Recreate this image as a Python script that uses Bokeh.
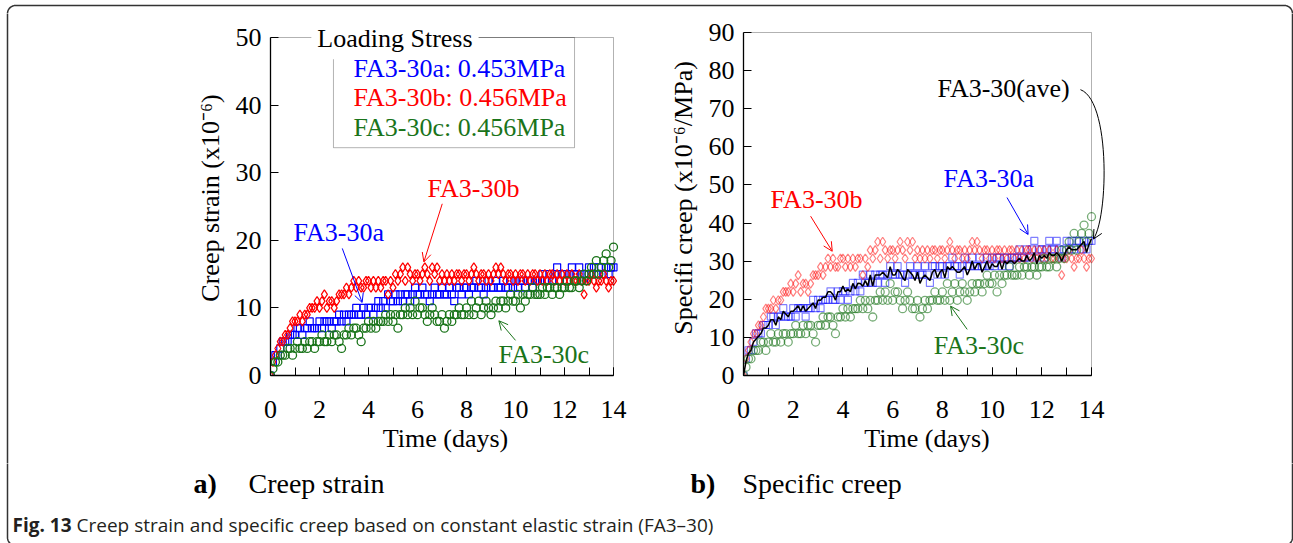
import numpy as np
from bokeh.plotting import figure
from bokeh.models import (Range1d, SingleIntervalTicker, Label, Arrow, OpenHead,
                          BoxAnnotation, ColumnDataSource)
from bokeh.layouts import column, row
from bokeh.embed import file_html
from bokeh.resources import INLINE

# ---------------- data ----------------
time_days = [round(0.1 * i, 1) for i in range(141)]

strain_a = [0, 2, 3, 3, 4, 5, 5, 5, 6, 6,
            6, 7, 7, 6, 7, 7, 8, 7, 7, 7,
            8, 7, 8, 8, 8, 7, 8, 8, 9, 8,
            9, 8, 9, 9, 9, 10, 9, 9, 10, 9,
            10, 10, 9, 10, 11, 10, 11, 10, 12, 11,
            11, 12, 11, 12, 11, 12, 12, 11, 12, 13,
            12, 12, 13, 12, 12, 11, 12, 13, 12, 12,
            13, 12, 12, 13, 12, 11, 13, 13, 12, 13,
            13, 12, 13, 13, 14, 13, 13, 12, 13, 14,
            13, 13, 14, 13, 13, 14, 13, 13, 14, 13,
            14, 13, 14, 14, 13, 14, 14, 13, 14, 14,
            14, 15, 14, 14, 15, 14, 15, 16, 14, 15,
            15, 14, 15, 16, 15, 15, 16, 15, 14, 15,
            16, 15, 16, 15, 16, 16, 15, 16, 15, 16, 16]

strain_b = [0, 2, 3, 4, 5, 5, 6, 6, 7, 8,
            8, 8, 9, 8, 9, 9, 10, 10, 10, 11,
            10, 11, 12, 10, 11, 11, 10, 11, 12, 12,
            12, 13, 12, 13, 14, 13, 14, 13, 13, 14,
            14, 13, 14, 13, 14, 13, 14, 14, 12, 14,
            13, 15, 14, 15, 16, 14, 16, 15, 14, 15,
            15, 14, 15, 16, 15, 14, 16, 15, 16, 14,
            15, 14, 15, 14, 15, 14, 15, 15, 14, 15,
            15, 14, 15, 16, 15, 14, 15, 15, 14, 15,
            14, 15, 16, 15, 16, 15, 14, 15, 15, 14,
            15, 14, 15, 15, 14, 15, 14, 15, 15, 14,
            15, 14, 15, 14, 15, 15, 14, 15, 14, 15,
            14, 15, 14, 15, 14, 14, 15, 14, 12, 14,
            14, 15, 14, 13, 14, 14, 15, 14, 13, 14, 14]

strain_c = [0, 1, 2, 2, 3, 3, 3, 4, 4, 3,
            4, 5, 4, 4, 5, 4, 5, 5, 4, 5,
            5, 6, 5, 5, 6, 5, 6, 6, 5, 4,
            6, 6, 7, 6, 7, 7, 6, 5, 7, 7,
            8, 7, 8, 7, 8, 8, 8, 9, 8, 9,
            8, 9, 7, 9, 9, 10, 9, 10, 9, 11,
            9, 10, 10, 9, 8, 9, 10, 9, 8, 8,
            9, 7, 8, 9, 8, 9, 9, 10, 9, 9,
            10, 9, 11, 9, 10, 11, 9, 10, 11, 10,
            9, 10, 11, 10, 11, 11, 10, 11, 12, 11,
            11, 12, 10, 12, 11, 12, 12, 13, 12, 12,
            12, 13, 12, 13, 13, 12, 13, 13, 12, 13,
            13, 14, 13, 13, 14, 14, 13, 14, 15, 14,
            15, 16, 15, 17, 15, 16, 17, 18, 16, 17, 19]

stress_a = 0.453
stress_b = 0.456
stress_c = 0.456

series_names = ["FA3-30a", "FA3-30b", "FA3-30c"]
legend_lines = ["FA3-30a: 0.453MPa", "FA3-30b: 0.456MPa", "FA3-30c: 0.456MPa"]
ave_name = "FA3-30(ave)"
x_max = 14
strain_max = 50
creep_max = 90
x_tick_step = 2
y_tick_step = 10

spec_a = np.array(strain_a) / stress_a
spec_b = np.array(strain_b) / stress_b
spec_c = np.array(strain_c) / stress_c
spec_ave = (spec_a + spec_b + spec_c) / 3.0

# ---------------- style / layout ----------------
SERIF = "Liberation Serif"
FS = "26px"
BLUE = "#0000ff"
RED = "#ff0000"
GREEN = "#1a741a"
BORDER = "#333333"

W, H = 1293, 543
TOP_H = 13          # top strip (page border)
MID_BOTTOM = 463    # bottom edge of the two chart figures
SIDE_L = 15         # left strip width
SIDE_R = 8          # right strip width
SPLIT = 650         # boundary between the two chart figures
FRAME_TOP = 20      # common plotting-frame top (page px)
FRAME_BOTTOM = 375  # common plotting-frame bottom (page px)

# data-area geometry (page pixels) and frame right extensions
LF = dict(left=270, right=613, top=37, frame_right=620)
RF = dict(left=743, right=1091, top=32, frame_right=1110)


def make_fig(page_x0, page_x1, fr, ymax, ylabel):
    sx = (fr["right"] - fr["left"]) / x_max
    sy = (FRAME_BOTTOM - fr["top"]) / ymax
    x_end = x_max + (fr["frame_right"] - fr["right"]) / sx
    y_end = ymax + (fr["top"] - FRAME_TOP) / sy
    p = figure(width=page_x1 - page_x0, height=MID_BOTTOM - TOP_H,
               x_range=Range1d(0, x_end), y_range=Range1d(0, y_end),
               output_backend="svg", toolbar_location=None,
               min_border_left=fr["left"] - page_x0,
               min_border_right=page_x1 - fr["frame_right"],
               min_border_top=FRAME_TOP - TOP_H,
               min_border_bottom=MID_BOTTOM - FRAME_BOTTOM)
    p.frame_align = False
    p.outline_line_color = None
    p.xgrid.visible = False
    p.ygrid.visible = False
    xa = p.xaxis[0]
    ya = p.yaxis[0]
    xa.ticker = SingleIntervalTicker(interval=x_tick_step, num_minor_ticks=2)
    ya.ticker = SingleIntervalTicker(interval=y_tick_step, num_minor_ticks=0)
    xa.bounds = (0, x_max)
    ya.bounds = (0, ymax)
    for ax in (xa, ya):
        ax.axis_line_color = "black"
        ax.axis_line_width = 1.3
        ax.major_tick_in = 8
        ax.major_tick_out = 0
        ax.minor_tick_in = 8
        ax.minor_tick_out = 0
        ax.major_tick_line_color = "black"
        ax.major_label_text_font = SERIF
        ax.major_label_text_font_size = FS
        ax.major_label_text_color = "black"
        ax.axis_label_text_font = SERIF
        ax.axis_label_text_font_size = FS
        ax.axis_label_text_font_style = "normal"
        ax.axis_label_text_color = "black"
    ya.minor_tick_line_color = None
    xa.minor_tick_line_color = "black"
    xa.major_label_standoff = 25
    ya.major_label_standoff = 9
    xa.axis_label = "Time (days)"
    ya.axis_label = ylabel
    xa.axis_label_standoff = 3
    ya.axis_label_standoff = 8
    # plot frame (top and right edges)
    p.add_layout(BoxAnnotation(left=0, right=x_max, bottom=0, top=ymax, fill_alpha=0,
                               fill_color=None, line_color="black", line_width=1))
    return p


def arrow(p, x0, y0, x1, y1, color):
    p.add_layout(Arrow(x_start=x0, y_start=y0, x_end=x1, y_end=y1, line_color=color, line_width=1,
                       end=OpenHead(size=9, line_color=color, line_width=1)))


def label(p, x, y, text, color, align="left", bg=None, size=FS):
    kw = {}
    if bg is not None:
        kw = dict(background_fill_color=bg, padding=6)
    p.add_layout(Label(x=x, y=y, text=text, text_font=SERIF, text_font_size=size,
                       text_color=color, text_align=align, text_baseline="middle", **kw))


# ---------------- left: creep strain ----------------
L = make_fig(SIDE_L, SPLIT, LF, strain_max, "Creep strain (x10⁻⁶)")
L.scatter(time_days, strain_a, marker="square", size=7, fill_color=None, line_color=BLUE, line_width=1.2)
L.scatter(time_days, strain_b, marker="diamond", size=9, fill_color=None, line_color=RED, line_width=1.2)
L.scatter(time_days, strain_c, marker="circle", size=8, fill_color=None, line_color=GREEN, line_width=1.3)

L.add_layout(BoxAnnotation(left=2.57, right=12.41, bottom=33.7, top=strain_max, fill_alpha=0,
                           fill_color=None, line_color="black", line_width=1))
label(L, 5.08, 49.8, "Loading Stress", "black", align="center", bg="white")
label(L, 3.39, 45.4, legend_lines[0], BLUE)
label(L, 3.39, 41.1, legend_lines[1], RED)
label(L, 3.39, 36.7, legend_lines[2], GREEN)

label(L, 0.94, 21.1, series_names[0], BLUE)
label(L, 6.41, 27.7, series_names[1], RED)
label(L, 9.31, 3.1, series_names[2], GREEN)
arrow(L, 2.93, 18.8, 3.74, 10.8, BLUE)
arrow(L, 7.01, 25.4, 6.26, 16.8, RED)
arrow(L, 10.0, 5.2, 9.32, 8.1, GREEN)

# ---------------- right: specific creep ----------------
R = make_fig(SPLIT, W - SIDE_R, RF, creep_max, "Specifi creep (x10⁻⁶/MPa)")
R.scatter(time_days, spec_a, marker="square", size=7, fill_color=None, line_color=BLUE,
          line_alpha=0.5, line_width=1.2)
R.scatter(time_days, spec_b, marker="diamond", size=9, fill_color=None, line_color=RED,
          line_alpha=0.5, line_width=1.2)
R.scatter(time_days, spec_c, marker="circle", size=8, fill_color=None, line_color=GREEN,
          line_alpha=0.6, line_width=1.3)
R.line(time_days, spec_ave, line_color="black", line_width=1.5)

label(R, 1.09, 46.3, series_names[1], RED)
label(R, 8.05, 51.8, series_names[0], BLUE)
label(R, 7.8, 75.3, ave_name, "black")
label(R, 7.65, 7.9, series_names[2], GREEN)
arrow(R, 2.7, 41.8, 3.57, 32.6, RED)
arrow(R, 10.6, 46.7, 11.45, 37.0, BLUE)
arrow(R, 9.0, 12.1, 8.33, 18.2, GREEN)

# curved pointer for the average label
tt = np.linspace(0, 1, 30)
P = np.array([[13.556, 75.0], [14.763, 72.1], [14.683, 41.8], [14.079, 35.8]])
bx = ((1 - tt) ** 3) * P[0, 0] + 3 * ((1 - tt) ** 2) * tt * P[1, 0] + 3 * (1 - tt) * tt ** 2 * P[2, 0] + tt ** 3 * P[3, 0]
by = ((1 - tt) ** 3) * P[0, 1] + 3 * ((1 - tt) ** 2) * tt * P[1, 1] + 3 * (1 - tt) * tt ** 2 * P[2, 1] + tt ** 3 * P[3, 1]
src = ColumnDataSource(dict(x0=bx[:-2], y0=by[:-2], x1=bx[1:-1], y1=by[1:-1]))
R.add_layout(Arrow(x_start="x0", y_start="y0", x_end="x1", y_end="y1", source=src,
                   line_color="black", line_width=1, end=None))
arrow(R, bx[-2], by[-2], bx[-1], by[-1], "black")


# ---------------- page border strips ----------------
def strip(x0, x1, y0, y1):
    s = figure(width=x1 - x0, height=y1 - y0, x_range=Range1d(x0, x1), y_range=Range1d(y1, y0),
               output_backend="svg", toolbar_location=None, min_border=0)
    s.frame_align = False
    s.axis.visible = False
    s.grid.visible = False
    s.outline_line_color = None
    return s


RAD = 8
BX0, BX1, BY0, BY1 = 7, 1292, 5, 545

T = strip(0, W, 0, TOP_H)
a1 = np.linspace(np.pi, 1.5 * np.pi, 10)
a2 = np.linspace(1.5 * np.pi, 2 * np.pi, 10)
T.line(list(BX0 + RAD + RAD * np.cos(a1)) + list(BX1 - RAD + RAD * np.cos(a2)),
       list(BY0 + RAD + RAD * np.sin(a1)) + list(BY0 + RAD + RAD * np.sin(a2)),
       line_color=BORDER, line_width=1.5)

SL = strip(0, SIDE_L, TOP_H, MID_BOTTOM)
SL.line([BX0, BX0], [TOP_H - 2, MID_BOTTOM + 2], line_color=BORDER, line_width=1.5)
SR = strip(W - SIDE_R, W, TOP_H, MID_BOTTOM)
SR.line([BX1, BX1], [TOP_H - 2, MID_BOTTOM + 2], line_color=BORDER, line_width=1.5)

B = strip(0, W, MID_BOTTOM, H)
a3 = np.linspace(np.pi, 0.5 * np.pi, 10)
a4 = np.linspace(0, 0.5 * np.pi, 10)
B.line([BX0] + list(BX0 + RAD + RAD * np.cos(a3)), [MID_BOTTOM - 2] + list(BY1 - RAD + RAD * np.sin(a3)),
       line_color=BORDER, line_width=1.5)
B.line([BX1] + list(BX1 - RAD + RAD * np.cos(a4)), [MID_BOTTOM - 2] + list(BY1 - RAD + RAD * np.sin(a4)),
       line_color=BORDER, line_width=1.5)


def blabel(x, y, text, font, size, style="normal", color="black"):
    B.add_layout(Label(x=x, y=y, text=text, text_font=font, text_font_size=size, text_font_style=style,
                       text_color=color, text_align="left", text_baseline="middle"))


blabel(193, 483, "a)", SERIF, "28px", "bold")
blabel(248, 483, "Creep strain", SERIF, "28px")
blabel(690, 483, "b)", SERIF, "28px", "bold")
blabel(742, 483, "Specific creep", SERIF, "28px")
blabel(12, 524, "Fig. 13", "Open Sans", "19px", "bold", "#231f20")
blabel(76, 524, "Creep strain and specific creep based on constant elastic strain (FA3–30)",
       "Open Sans", "19px", "normal", "#231f20")

layout = column(T, row(SL, L, R, SR), B)
open("out.html", "w").write(file_html(layout, INLINE))
